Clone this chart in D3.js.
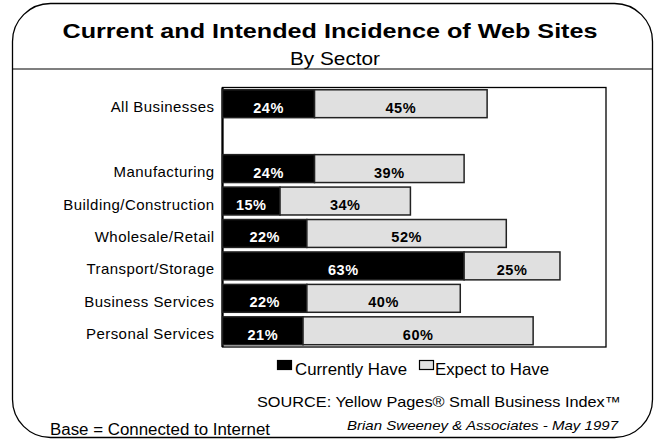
<!DOCTYPE html>
<html>
<head>
<meta charset="utf-8">
<script src="https://cdn.jsdelivr.net/npm/d3@7"></script>
<style>
  html, body { margin: 0; padding: 0; background: #fff; }
  svg { display: block; }
  text { font-family: "Liberation Sans", Arial, sans-serif; fill: #000; }
</style>
</head>
<body>
<svg id="chart" width="660" height="441"></svg>
<script>
// Sectors, in drawing order (a gap follows the "All Businesses" row)
const categories = ["All Businesses", "Manufacturing", "Building/Construction",
  "Wholesale/Retail", "Transport/Storage", "Business Services", "Personal Services"];
const currentlyHave = [24, 24, 15, 22, 63, 22, 21];
const expectToHave  = [45, 39, 34, 52, 25, 40, 60];
const seriesNames = ["Currently Have", "Expect to Have"];

const title = "Current and Intended Incidence of Web Sites";
const subtitle = "By Sector";
const sourceText = "SOURCE: Yellow Pages®  Small Business Index™";
const creditText = "Brian Sweeney & Associates - May 1997";
const baseText = "Base = Connected to Internet";

const svg = d3.select("#chart");

// Outer rounded frame
svg.append("rect")
  .attr("x", 12.5).attr("y", 3.5)
  .attr("width", 640).attr("height", 434)
  .attr("rx", 38).attr("ry", 38)
  .attr("fill", "#fff").attr("stroke", "#000").attr("stroke-width", 1.3);

// Title block
svg.append("text")
  .attr("x", 330).attr("y", 38)
  .attr("text-anchor", "middle")
  .attr("font-size", 21).attr("font-weight", "bold")
  .attr("textLength", 535).attr("lengthAdjust", "spacingAndGlyphs")
  .text(title);
svg.append("text")
  .attr("x", 335).attr("y", 64.5)
  .attr("text-anchor", "middle")
  .attr("font-size", 18)
  .attr("textLength", 90).attr("lengthAdjust", "spacingAndGlyphs")
  .text(subtitle);
svg.append("line")
  .attr("x1", 12.5).attr("x2", 652.5)
  .attr("y1", 69).attr("y2", 69)
  .attr("stroke", "#000").attr("stroke-width", 1.2);

// Plot area
const plot = { left: 222.5, right: 606, top: 87.5, bottom: 347 };
const x = d3.scaleLinear().domain([0, 100]).range([plot.left, plot.right]);
const slots = [categories[0], "__gap__", ...categories.slice(1)];
const y = d3.scaleBand().domain(slots)
  .range([plot.top, plot.bottom])
  .paddingInner(0.14).paddingOuter(0.07);

svg.append("rect")
  .attr("x", plot.left).attr("y", plot.top)
  .attr("width", plot.right - plot.left).attr("height", plot.bottom - plot.top)
  .attr("fill", "none").attr("stroke", "#000").attr("stroke-width", 1.3);
svg.append("line")
  .attr("x1", plot.left).attr("x2", plot.left)
  .attr("y1", plot.top).attr("y2", plot.bottom)
  .attr("stroke", "#000").attr("stroke-width", 2.2);

const rows = categories.map((c, i) => ({ cat: c, cur: currentlyHave[i], exp: expectToHave[i] }));

const g = svg.append("g");
const row = g.selectAll("g.row").data(rows).join("g").attr("class", "row");

// Currently have (black) segment
row.append("rect")
  .attr("x", x(0))
  .attr("y", d => y(d.cat))
  .attr("width", d => x(d.cur) - x(0))
  .attr("height", y.bandwidth())
  .attr("fill", "#000").attr("stroke", "#222").attr("stroke-width", 1.5);

// Expect to have (light grey) segment, stacked after the first
row.append("rect")
  .attr("x", d => x(d.cur))
  .attr("y", d => y(d.cat))
  .attr("width", d => x(d.cur + d.exp) - x(d.cur))
  .attr("height", y.bandwidth())
  .attr("fill", "#e0e0e0").attr("stroke", "#222").attr("stroke-width", 1.5);

// Value labels
row.append("text")
  .attr("x", d => (x(0) + x(d.cur)) / 2)
  .attr("y", d => y(d.cat) + y.bandwidth() / 2 + 9)
  .attr("text-anchor", "middle")
  .attr("font-size", 14.5).attr("font-weight", "bold")
  .attr("letter-spacing", 0.5)
  .style("fill", "#fff")
  .text(d => d.cur + "%");
row.append("text")
  .attr("x", d => (x(d.cur) + x(d.cur + d.exp)) / 2)
  .attr("y", d => y(d.cat) + y.bandwidth() / 2 + 9)
  .attr("text-anchor", "middle")
  .attr("font-size", 14.5).attr("font-weight", "bold")
  .attr("letter-spacing", 0.5)
  .text(d => d.exp + "%");

// Category labels
row.append("text")
  .attr("x", 214.5)
  .attr("y", d => y(d.cat) + y.bandwidth() / 2 + 8.5)
  .attr("text-anchor", "end")
  .attr("font-size", 15)
  .attr("letter-spacing", 0.45)
  .text(d => d.cat);

// Legend
const legend = [
  { name: seriesNames[0], fill: "#000", bx: 277, tx: 295, len: 112 },
  { name: seriesNames[1], fill: "#e0e0e0", bx: 419, tx: 435, len: 114 }
];
const lg = svg.append("g").selectAll("g").data(legend).join("g");
lg.append("rect")
  .attr("x", d => d.bx + 0.5).attr("y", 360.5)
  .attr("width", 14).attr("height", 9)
  .attr("fill", d => d.fill).attr("stroke", "#000").attr("stroke-width", 1.2);
lg.append("text")
  .attr("x", d => d.tx).attr("y", 375)
  .attr("font-size", 17)
  .attr("textLength", d => d.len).attr("lengthAdjust", "spacingAndGlyphs")
  .text(d => d.name);

// Source and notes
svg.append("text")
  .attr("x", 621).attr("y", 407)
  .attr("text-anchor", "end")
  .attr("font-size", 15)
  .attr("textLength", 364).attr("lengthAdjust", "spacingAndGlyphs")
  .text(sourceText);
svg.append("text")
  .attr("x", 618).attr("y", 430)
  .attr("text-anchor", "end")
  .attr("font-size", 13.5).attr("font-style", "italic")
  .attr("textLength", 271).attr("lengthAdjust", "spacingAndGlyphs")
  .text(creditText);
svg.append("text")
  .attr("x", 50).attr("y", 435)
  .attr("font-size", 16)
  .attr("textLength", 220).attr("lengthAdjust", "spacingAndGlyphs")
  .text(baseText);
</script>
</body>
</html>
